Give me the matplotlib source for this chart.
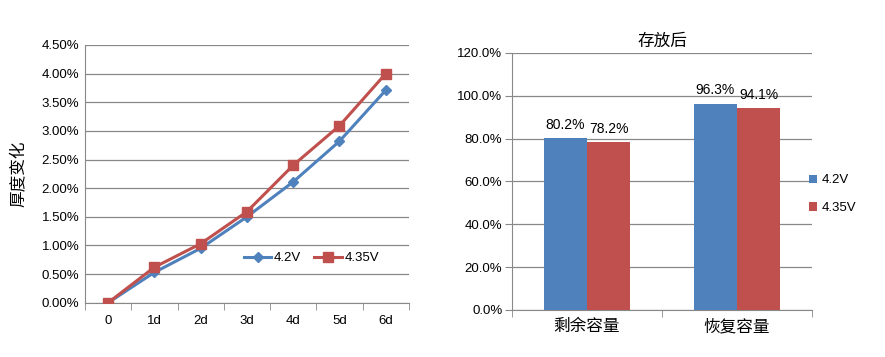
import matplotlib
matplotlib.use("Agg")
import matplotlib.pyplot as plt
import numpy as np
from matplotlib.ticker import FuncFormatter, FixedLocator

plt.rcParams['font.family'] = ['Liberation Sans', 'Noto Sans CJK SC', 'DejaVu Sans']

# left chart: thickness change
days = ["0", "1d", "2d", "3d", "4d", "5d", "6d"]
thick_42 = [0.0, 0.53, 0.95, 1.50, 2.11, 2.82, 3.71]
thick_435 = [0.0, 0.62, 1.03, 1.59, 2.40, 3.09, 4.00]

# right chart: capacity after storage
groups = ["剩余容量", "恢复容量"]
cap_42 = [80.2, 96.3]
cap_435 = [78.2, 94.1]
series = ["4.2V", "4.35V"]

blue = "#4F81BD"
red = "#C0504D"
grid_c = "#888888"

fig = plt.figure(figsize=(8.85, 3.57), dpi=100)

# ---- left
ax1 = fig.add_axes([0.096, 0.152, 0.366, 0.722])
x = np.arange(len(days))
ax1.plot(x, thick_42, color=blue, lw=2.2, marker="D", ms=5, label=series[0], zorder=3)
ax1.plot(x, thick_435, color=red, lw=2.2, marker="s", ms=7, label=series[1], zorder=3)
ax1.set_xlim(-0.5, len(days) - 0.5)
ax1.set_ylim(0, 4.5)
ax1.set_yticks(np.arange(0, 4.51, 0.5))
ax1.yaxis.set_major_formatter(FuncFormatter(lambda v, p: "%.2f%%" % v))
ax1.set_xticks(x)
ax1.set_xticklabels(days)
ax1.tick_params(axis="x", length=0, pad=9)
ax1.xaxis.set_minor_locator(FixedLocator(np.arange(-0.5, len(days), 1)))
ax1.tick_params(axis="x", which="minor", length=5, color=grid_c, direction="out")
ax1.tick_params(axis="y", length=0, pad=4)
ax1.tick_params(labelsize=9.5)
ax1.grid(axis="y", color=grid_c, lw=0.9)
ax1.set_axisbelow(True)
for s in ["top", "right"]:
    ax1.spines[s].set_visible(False)
ax1.spines["left"].set_color(grid_c)
ax1.spines["bottom"].set_color(grid_c)
ax1.set_ylabel("厚度变化", fontsize=12, family=['Noto Sans CJK SC'], labelpad=10)
ax1.legend(loc="center left", bbox_to_anchor=(0.49, 0.173), ncol=2, frameon=False,
           fontsize=9.5, handlelength=2.1, handletextpad=0.2, columnspacing=1.0,
           borderpad=0, borderaxespad=0)

# ---- right
ax2 = fig.add_axes([0.5785, 0.1317, 0.339, 0.72])
gx = np.arange(len(groups))
w = 0.287
b1 = ax2.bar(gx - w / 2, cap_42, w, color=blue, label=series[0], zorder=3)
b2 = ax2.bar(gx + w / 2, cap_435, w, color=red, label=series[1], zorder=3)
for bars, vals in [(b1, cap_42), (b2, cap_435)]:
    for r, v in zip(bars, vals):
        ax2.text(r.get_x() + r.get_width() / 2, v + 3, "%.1f%%" % v,
                 ha="center", va="bottom", fontsize=10)
ax2.set_xlim(-0.5, len(groups) - 0.5)
ax2.set_ylim(0, 120)
ax2.set_yticks(np.arange(0, 121, 20))
ax2.yaxis.set_major_formatter(FuncFormatter(lambda v, p: "%.1f%%" % v))
ax2.set_xticks(gx)
ax2.set_xticklabels(groups, fontsize=12, family=['Noto Sans CJK SC'])
ax2.tick_params(axis="x", length=0, pad=6)
ax2.xaxis.set_minor_locator(FixedLocator(np.arange(-0.5, len(groups), 1)))
ax2.tick_params(axis="x", which="minor", length=5, color=grid_c, direction="out")
ax2.tick_params(axis="y", length=5, color=grid_c, direction="out", labelsize=9.5, pad=2)
ax2.grid(axis="y", color=grid_c, lw=0.9)
ax2.set_axisbelow(True)
for s in ["top", "right"]:
    ax2.spines[s].set_visible(False)
ax2.spines["left"].set_color(grid_c)
ax2.spines["bottom"].set_color(grid_c)
ax2.set_title("存放后", fontsize=12, family=['Noto Sans CJK SC'], pad=5)
ax2.legend(loc="center left", bbox_to_anchor=(0.99, 0.45), frameon=False, fontsize=9.5,
           handlelength=0.6, handleheight=0.6, handletextpad=0.4, labelspacing=1.2,
           borderpad=0, borderaxespad=0)

fig.savefig("out.png", dpi=100)
